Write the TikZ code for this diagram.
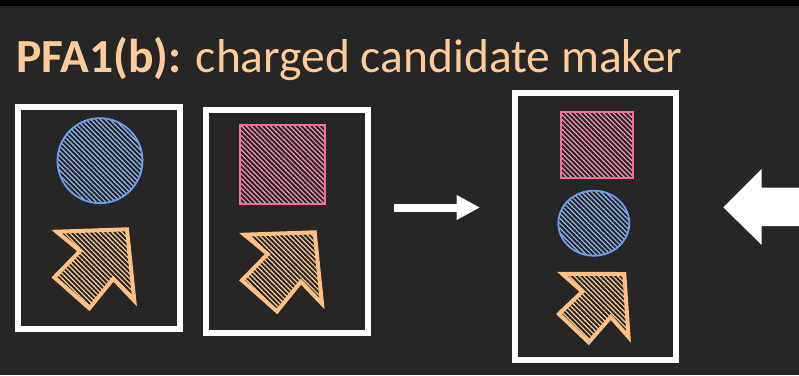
\documentclass[tikz,border=0pt]{standalone}
\usepackage{fontspec}
\setmainfont{Carlito}
\usetikzlibrary{arrows.meta,patterns.meta,shapes.geometric}
\definecolor{slide}{HTML}{262626}
\definecolor{peach}{HTML}{FFCC99}
\definecolor{cursorline}{HTML}{FFC082}
\definecolor{trackblue}{HTML}{6A9EF5}
\definecolor{trackhatch}{HTML}{90B8F5}
\definecolor{clusterpink}{HTML}{FF6A9E}
\definecolor{clusterhatch}{HTML}{FF90B8}
\tikzset{
  pics/cursor/.style={code={
    \draw[cursorshape] (0,0) -- (-70.3,2.4) -- (-47,21.7) -- (-72.7,48)
      -- (-37.7,79) -- (-13.7,49.4) -- (7.3,71.4) -- cycle;
  }},
}
\begin{document}
\begin{tikzpicture}[
  x=1pt, y=-1pt,
  frame/.style={draw=white, line width=6pt, inner sep=0pt, minimum width=161.7pt},
  hatched/.style={pattern={Lines[angle=-45, distance=3.4pt, line width=1.2pt]}},
  track/.style={circle, draw=trackblue, line width=1.8pt, hatched, pattern color=trackhatch, inner sep=0pt},
  cluster/.style={rectangle, draw=clusterpink, line width=1.8pt, hatched, pattern color=clusterhatch, inner sep=0pt},
  cursorshape/.style={draw=cursorline, line width=4pt, hatched, pattern color=peach},
  flow/.style={white, line width=8pt, -{Triangle[width=23.5pt, length=23.5pt]}},
  heading/.style={font=\fontsize{47.5}{52}\selectfont, text=peach, inner sep=0pt, anchor=base west},
]
  \useasboundingbox (0,0) rectangle (799,375);
  \fill[slide] (0,0) rectangle (799,375);
  \fill[black] (0,0) rectangle (799,6);

  \node[heading] (title) at (16,72.3) {\textbf{PFA1(b):} charged candidate maker};

  % inputs
  \node[frame, minimum height=222pt] (box1) at (99.2,218) {};
  \node[frame, minimum height=222.2pt] (box2) at (286.9,221.4) {};
  \node[track, minimum size=85pt] (trk1) at (100,160.7) {};
  \node[cluster, minimum width=85pt, minimum height=79.3pt] (clu1) at (282.8,164.4) {};
  \pic at (127,229.3) {cursor};
  \pic at (314.7,232.3) {cursor};

  % output candidate
  \node[frame, minimum width=161.8pt, minimum height=267pt] (box3) at (595.4,226.8) {};
  \node[cluster, minimum width=71.4pt, minimum height=66pt] (clu2) at (597,145.3) {};
  \node[track, ellipse, minimum width=71pt, minimum height=65pt] (trk2) at (593.8,223.2) {};
  \pic[scale=0.88, rotate=-2] at (624.3,274) {cursor};

  \coordinate (mid-start) at (394,207.5);
  \coordinate (mid-end) at (480,207.5);
  \draw[flow] (mid-start) -- (mid-end);

  % incoming block arrow
  \fill[white] (723.3,207.3) -- (761.7,169) -- (761.7,187.7) -- (800,187.7)
    -- (800,226) -- (761.7,226) -- (761.7,245) -- cycle;
\end{tikzpicture}
\end{document}
